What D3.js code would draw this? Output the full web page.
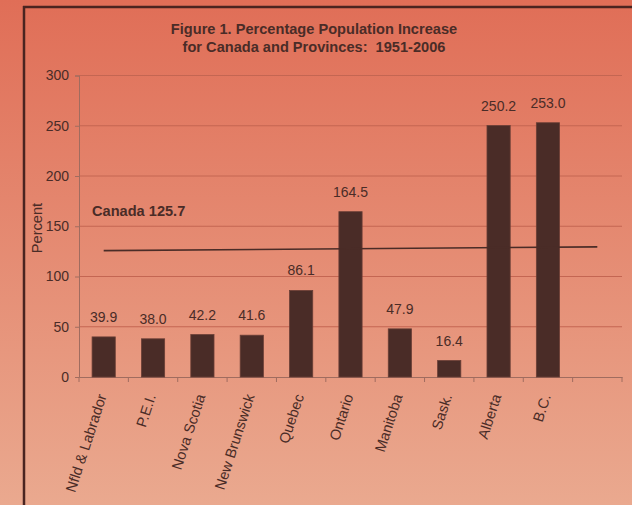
<!DOCTYPE html>
<html><head><meta charset="utf-8">
<script src="https://cdn.jsdelivr.net/npm/d3@7"></script>
<style>
html,body{margin:0;padding:0;}
svg{display:block;font-family:"Liberation Sans",Arial,sans-serif;}
text{white-space:pre;}
</style></head>
<body>
<svg id="chart" width="632" height="505"></svg>
<script>
const categories = ["Nfld & Labrador","P.E.I.","Nova Scotia","New Brunswick","Quebec","Ontario","Manitoba","Sask.","Alberta","B.C.",""];
const values = [39.9,38.0,42.2,41.6,86.1,164.5,47.9,16.4,250.2,253.0,null];
const valueLabels = ["39.9","38.0","42.2","41.6","86.1","164.5","47.9","16.4","250.2","253.0",""];
const yTicks = [0,50,100,150,200,250,300];
const canadaValue = 125.7;
const canadaLine = [125.7,129.5];
const titleLines = ["Figure 1. Percentage Population Increase","for Canada and Provinces:  1951-2006"];

const svg = d3.select("#chart");
const W = 632, H = 505;
const dark = "#4a2c27";

const defs = svg.append("defs");
const grad = defs.append("linearGradient").attr("id","bg").attr("x1",0).attr("y1",0).attr("x2",0).attr("y2",1);
grad.append("stop").attr("offset","0%").attr("stop-color","#e06e57");
grad.append("stop").attr("offset","100%").attr("stop-color","#eaa98f");
svg.append("rect").attr("width",W).attr("height",H).attr("fill","url(#bg)");

// border
svg.append("line").attr("x1",23).attr("x2",W).attr("y1",7).attr("y2",7).attr("stroke","#4a2420").attr("stroke-width",2.5);
svg.append("line").attr("x1",24).attr("x2",24).attr("y1",6).attr("y2",H).attr("stroke","#4a2420").attr("stroke-width",2.5);

const m = {left:79, right:622, top:75.5, bottom:377};
const x = d3.scaleBand().domain(d3.range(categories.length)).range([m.left,m.right]).paddingInner(0).paddingOuter(0);
const y = d3.scaleLinear().domain([0,300]).range([m.bottom,m.top]);

// title
svg.append("g").selectAll("text").data(titleLines).join("text")
  .attr("x",314).attr("y",(d,i)=>34+i*18).attr("text-anchor","middle")
  .attr("font-size",14.6).attr("font-weight","bold").attr("fill",dark).text(d=>d);

// gridlines
svg.append("g").selectAll("line").data(yTicks.filter(d=>d>0)).join("line")
  .attr("x1",m.left).attr("x2",m.right).attr("y1",d=>y(d)).attr("y2",d=>y(d))
  .attr("stroke","#c46652").attr("stroke-width",1);

// y axis
const yAxis = svg.append("g").attr("transform",`translate(${m.left},0)`)
  .call(d3.axisLeft(y).tickValues(yTicks).tickSize(4).tickPadding(6));
yAxis.select(".domain").attr("stroke","#a06c5f");
yAxis.selectAll(".tick line").attr("stroke","#a06c5f");
yAxis.selectAll("text").attr("font-size",14).attr("fill",dark).attr("font-family","Liberation Sans, Arial, sans-serif");

// x axis
const xAxis = svg.append("g").attr("transform",`translate(0,${m.bottom})`)
  .call(d3.axisBottom(x).tickSize(0).tickFormat(""));
xAxis.select(".domain").attr("stroke","#a06c5f");
xAxis.selectAll(".tick").remove();
svg.append("g").selectAll("line").data(d3.range(categories.length+1)).join("line")
  .attr("x1",i=>m.left + i*x.step()).attr("x2",i=>m.left + i*x.step())
  .attr("y1",m.bottom).attr("y2",m.bottom+5).attr("stroke","#a06c5f");

// bars
const bw = x.bandwidth()*0.47;
svg.append("g").selectAll("rect").data(values.map((v,i)=>({v,i})).filter(d=>d.v!=null)).join("rect")
  .attr("x",d=>x(d.i)+x.bandwidth()/2-bw/2).attr("width",bw)
  .attr("y",d=>y(d.v)).attr("height",d=>y(0)-y(d.v))
  .attr("fill",dark).attr("stroke","#6a3f36").attr("stroke-width",0.8);

// value labels
svg.append("g").selectAll("text").data(values.map((v,i)=>({v,i})).filter(d=>d.v!=null)).join("text")
  .attr("x",d=>x(d.i)+x.bandwidth()/2).attr("y",d=>y(d.v)-15)
  .attr("text-anchor","middle").attr("font-size",14).attr("fill",dark).text(d=>valueLabels[d.i]);

// Canada line
const cx0 = x(0)+x.bandwidth()/2, cx1 = x(categories.length-1)+x.bandwidth()/2;
svg.append("line").attr("x1",cx0).attr("x2",cx1).attr("y1",y(canadaLine[0])).attr("y2",y(canadaLine[1]))
  .attr("stroke",dark).attr("stroke-width",1.6);
svg.append("text").attr("x",92).attr("y",216).attr("font-size",14.6).attr("font-weight","bold")
  .attr("fill",dark).text("Canada " + canadaValue.toFixed(1));

// y label
svg.append("text").attr("transform","translate(42,228) rotate(-90)").attr("text-anchor","middle")
  .attr("font-size",14.6).attr("fill",dark).text("Percent");

// x labels
svg.append("g").selectAll("text").data(categories.map((c,i)=>({c,i})).filter(d=>d.c)).join("text")
  .attr("transform",d=>`translate(${x(d.i)+x.bandwidth()/2+3},${m.bottom+19}) rotate(-72)`)
  .attr("text-anchor","end").attr("font-size",14.6).attr("fill",dark).text(d=>d.c);
</script>
</body></html>
